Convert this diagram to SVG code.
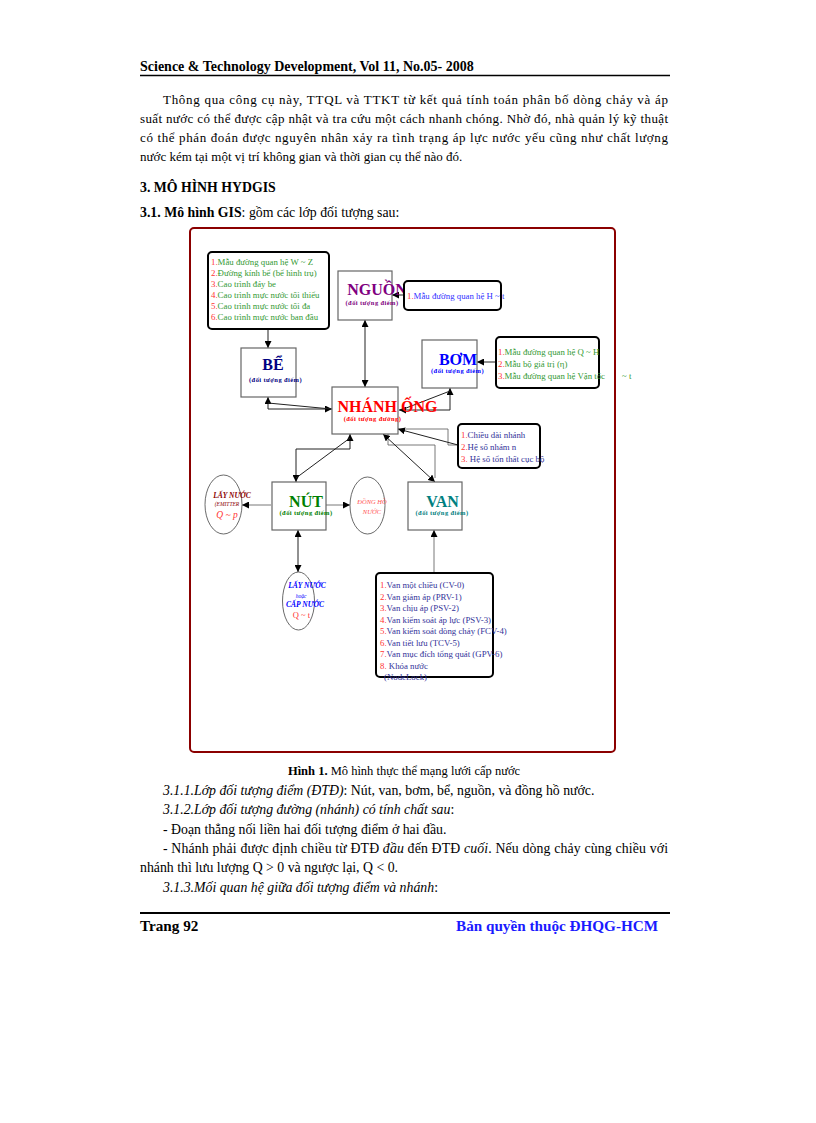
<svg xmlns="http://www.w3.org/2000/svg" width="816" height="1123" viewBox="0 0 816 1123">
<defs>
<marker id="ah" markerUnits="userSpaceOnUse" markerWidth="8" markerHeight="7" refX="7" refY="3.5" orient="auto-start-reverse"><path d="M0,0 L7,3.5 L0,7 z" fill="#000"/></marker>
<style>
.pg{font-family:"Liberation Serif",serif;font-size:13px;fill:#000}
.lo{font-size:13.8px}
.hd{font-size:14px}
.ft{font-size:15.2px}
.cap{font-size:12.5px}
.b{font-weight:bold}
.i{font-style:italic}
.d{font-family:"Liberation Serif",serif}
.node{fill:#fff;stroke:#666;stroke-width:1.2}
.attr{fill:#fff;stroke:#000;stroke-width:2}
.big{font-weight:bold;font-size:16px;text-anchor:middle}
.sub{font-weight:bold;font-size:6.5px;text-anchor:middle;letter-spacing:0.4px}
.at{font-size:8.8px}
.n{fill:#ff3333}
.g{fill:#339933}
.nv{fill:#333399}
.con{fill:none;stroke:#222;stroke-width:1}
.thin{fill:none;stroke:#555;stroke-width:0.8}
</style>
</defs>
<rect width="816" height="1123" fill="#fff"/>

<g id="page-text">
<text class="pg hd b" x="140" y="71">Science &amp; Technology Development, Vol 11, No.05- 2008</text>
<line x1="140" y1="75.5" x2="670" y2="75.5" stroke="#000" stroke-width="1.5"/>
<text class="pg" x="163" y="103.5" textLength="505" lengthAdjust="spacing">Thông qua công cụ này, TTQL và TTKT từ kết quả tính toán phân bố dòng chảy và áp</text>
<text class="pg" x="140" y="122.5" textLength="528" lengthAdjust="spacing">suất nước có thể được cập nhật và tra cứu một cách nhanh chóng. Nhờ đó, nhà quản lý kỹ thuật</text>
<text class="pg" x="140" y="141.5" textLength="528" lengthAdjust="spacing">có thể phán đoán được nguyên nhân xảy ra tình trạng áp lực nước yếu cũng như chất lượng</text>
<text class="pg" x="140" y="160.5">nước kém tại một vị trí không gian và thời gian cụ thể nào đó.</text>
<text class="pg lo b" x="140" y="191.5">3. MÔ HÌNH HYDGIS</text>
<text class="pg lo" x="140" y="216.5"><tspan class="b">3.1. Mô hình GIS</tspan>: gồm các lớp đối tượng sau:</text>
<text class="pg cap" x="404" y="775" text-anchor="middle"><tspan class="b">Hình 1.</tspan> Mô hình thực thể mạng lưới cấp nước</text>
<text class="pg lo" x="163" y="794.5"><tspan class="i">3.1.1.Lớp đối tượng điểm (ĐTĐ)</tspan>: Nút, van, bơm, bể, nguồn, và đồng hồ nước.</text>
<text class="pg lo" x="163" y="814"><tspan class="i">3.1.2.Lớp đối tượng đường (nhánh) có tính chất sau</tspan>:</text>
<text class="pg lo" x="163" y="833.5">- Đoạn thẳng nối liền hai đối tượng điểm ở hai đầu.</text>
<text class="pg lo" x="163" y="852.5" textLength="505" lengthAdjust="spacing">- Nhánh phải được định chiều từ ĐTĐ <tspan class="i">đầu</tspan> đến ĐTĐ <tspan class="i">cuối</tspan>. Nếu dòng chảy cùng chiều với</text>
<text class="pg lo" x="140" y="871.5">nhánh thì lưu lượng Q &gt; 0 và ngược lại, Q &lt; 0.</text>
<text class="pg lo" x="163" y="891.5"><tspan class="i">3.1.3.Mối quan hệ giữa đối tượng điểm  và nhánh</tspan>:</text>
<line x1="140" y1="913" x2="670" y2="913" stroke="#000" stroke-width="2"/>
<text class="pg ft b" x="140" y="931">Trang 92</text>
<text class="pg ft b" x="456" y="931" style="fill:#1a1aff">Bản quyền thuộc ĐHQG-HCM</text>
</g>

<rect id="frame" x="190" y="228" width="425" height="524" rx="4" fill="none" stroke="#8b0000" stroke-width="2"/>

<g id="connectors">
<line class="con" x1="268" y1="329" x2="268" y2="348" marker-end="url(#ah)"/>
<line class="con" x1="365" y1="320" x2="365" y2="387" marker-start="url(#ah)" marker-end="url(#ah)"/>
<line class="con" x1="404" y1="295" x2="392" y2="295" marker-end="url(#ah)"/>
<line class="con" x1="496" y1="362" x2="477" y2="362" marker-end="url(#ah)"/>
<path class="con" d="M268,397 V409 H332" marker-start="url(#ah)" marker-end="url(#ah)"/>
<line class="con" x1="268" y1="403" x2="331" y2="409"/>
<path class="con" d="M399,410 H450 V388" marker-start="url(#ah)" marker-end="url(#ah)"/>
<line class="con" x1="450" y1="391" x2="401" y2="410"/>
<path class="thin" d="M398,429 H448 V445 H458"/>
<line class="con" x1="458" y1="445" x2="398" y2="429" marker-end="url(#ah)"/>
<path class="con" d="M296,482 V449 H350 V434" marker-start="url(#ah)" marker-end="url(#ah)"/>
<line class="con" x1="296" y1="478" x2="350" y2="438"/>
<path class="thin" d="M388,434 V445 H435 V478"/>
<line class="con" x1="383" y1="434" x2="435" y2="482" marker-start="url(#ah)" marker-end="url(#ah)"/>
<line class="thin" x1="271" y1="505" x2="242" y2="505" marker-end="url(#ah)"/>
<line class="thin" x1="326" y1="505" x2="350" y2="505" marker-end="url(#ah)"/>
<line class="con" x1="298" y1="530" x2="298" y2="572" marker-start="url(#ah)" marker-end="url(#ah)"/>
<line class="thin" x1="434" y1="573" x2="434" y2="530" marker-end="url(#ah)"/>
</g>

<g id="be-attrs">
<rect class="attr" x="208" y="252" width="121" height="77" rx="4"/>
<text class="d at" x="211" y="264.5"><tspan class="n">1.</tspan><tspan class="g">Mẫu đường quan hệ W ~ Z</tspan></text>
<text class="d at" x="211" y="275.5"><tspan class="n">2.</tspan><tspan class="g">Đường kính bể (bể hình trụ)</tspan></text>
<text class="d at" x="211" y="286.5"><tspan class="n">3.</tspan><tspan class="g">Cao trình đáy be</tspan></text>
<text class="d at" x="211" y="297.5"><tspan class="n">4.</tspan><tspan class="g">Cao trình mực nước tối thiểu</tspan></text>
<text class="d at" x="211" y="308.5"><tspan class="n">5.</tspan><tspan class="g">Cao trình mực nước tối đa</tspan></text>
<text class="d at" x="211" y="319.5"><tspan class="n">6.</tspan><tspan class="g">Cao trình mực nước ban đầu</tspan></text>
</g>

<g id="nguon">
<rect class="node" x="338" y="271" width="54" height="49"/>
<text class="d big" x="377" y="295" fill="#800080">NGUỒN</text>
<text class="d sub" x="372" y="305" fill="#800080">(đối tượng điểm)</text>
</g>

<g id="nguon-attrs">
<rect class="attr" x="404" y="281" width="97" height="29" rx="4"/>
<text class="d at" x="407" y="298.5"><tspan class="n">1.</tspan><tspan fill="#3333ff">Mẫu đường quan hệ H ~ t</tspan></text>
</g>

<g id="be">
<rect class="node" x="241" y="348" width="55" height="49"/>
<text class="d big" x="273" y="369.5" fill="#000080">BỂ</text>
<text class="d sub" x="275.5" y="382" fill="#000080">(đối tượng điểm)</text>
</g>

<g id="bom">
<rect class="node" x="422" y="340" width="55" height="48"/>
<text class="d big" x="458" y="364.5" fill="#0000ff">BƠM</text>
<text class="d sub" x="457.5" y="373" fill="#0000ff">(đối tượng điểm)</text>
</g>

<g id="bom-attrs">
<rect class="attr" x="496" y="337" width="103" height="51" rx="4"/>
<text class="d at" x="498" y="354.5"><tspan class="n">1.</tspan><tspan class="g">Mẫu đường quan hệ Q ~ H</tspan></text>
<text class="d at" x="498" y="366.5"><tspan class="n">2.</tspan><tspan class="g">Mẫu bộ giá trị (η)</tspan></text>
<text class="d at" x="498" y="378.5"><tspan class="n">3.</tspan><tspan class="g">Mẫu đường quan hệ Vận tốc</tspan></text>
<text class="d at g" x="622" y="378.5">~ t</text>
</g>

<g id="nhanh-ong">
<rect class="node" x="332" y="387" width="66" height="47"/>
<text class="d big" x="387.5" y="411.5" fill="#ff0000">NHÁNH ỐNG</text>
<text class="d sub" x="372.5" y="420.5" fill="#ff0000">(đối tượng đường)</text>
</g>

<g id="nhanh-attrs">
<rect class="attr" x="458" y="424" width="82" height="44" rx="4"/>
<text class="d at" x="461" y="438"><tspan class="n">1.</tspan><tspan class="nv">Chiều dài nhánh</tspan></text>
<text class="d at" x="461" y="450"><tspan class="n">2.</tspan><tspan class="nv">Hệ số nhám n</tspan></text>
<text class="d at" x="461" y="462"><tspan class="n">3.</tspan><tspan class="nv"> Hệ số tổn thất cục bộ</tspan></text>
</g>

<g id="nut">
<rect class="node" x="272" y="482" width="54" height="48"/>
<text class="d big" x="306" y="507" fill="#008000">NÚT</text>
<text class="d sub" x="306" y="515" fill="#008000">(đối tượng điểm)</text>
</g>

<g id="emitter">
<ellipse cx="223.5" cy="504.5" rx="18.5" ry="29.5" fill="#fff" stroke="#444" stroke-width="0.8"/>
<text class="d" x="232" y="497.5" font-size="7.5" font-weight="bold" font-style="italic" fill="#8b0000" text-anchor="middle">LẤY NƯỚC</text>
<text class="d" x="227" y="506" font-size="5.5" font-style="italic" fill="#8b0000" text-anchor="middle">(EMITTER</text>
<text class="d" x="227" y="517.5" font-size="9.5" font-style="italic" fill="#ff3333" text-anchor="middle">Q ~ p</text>
</g>

<g id="dong-ho">
<ellipse cx="367.5" cy="505.5" rx="17.5" ry="28.5" fill="#fff" stroke="#444" stroke-width="0.8"/>
<text class="d" x="372" y="503.5" font-size="6.5" font-style="italic" fill="#ff5050" text-anchor="middle">ĐỒNG HỒ</text>
<text class="d" x="372" y="513.5" font-size="6.5" font-style="italic" fill="#ff5050" text-anchor="middle">NƯỚC</text>
</g>

<g id="van">
<rect class="node" x="408" y="482" width="54" height="48"/>
<text class="d big" x="442.5" y="507" fill="#008080">VAN</text>
<text class="d sub" x="442" y="515" fill="#008080">(đối tượng điểm)</text>
</g>

<g id="cap-nuoc">
<ellipse cx="298.5" cy="601" rx="16" ry="29" fill="#fff" stroke="#444" stroke-width="0.8"/>
<text class="d" x="307" y="588" font-size="7.5" font-weight="bold" font-style="italic" fill="#0000ff" text-anchor="middle">LẤY NƯỚC</text>
<text class="d" x="301" y="597.5" font-size="5.5" font-style="italic" fill="#0000ff" text-anchor="middle">hoặc</text>
<text class="d" x="305" y="607" font-size="7.5" font-weight="bold" font-style="italic" fill="#0000ff" text-anchor="middle">CẤP NƯỚC</text>
<text class="d" x="301.5" y="617.5" font-size="8.5" fill="#ff3333" text-anchor="middle">Q ~ t</text>
</g>

<g id="van-attrs">
<rect class="attr" x="376" y="573" width="117" height="104" rx="4"/>
<text class="d at" x="380" y="588"><tspan class="n">1.</tspan><tspan class="nv">Van một chiều (CV-0)</tspan></text>
<text class="d at" x="380" y="599.5"><tspan class="n">2.</tspan><tspan class="nv">Van giảm áp (PRV-1)</tspan></text>
<text class="d at" x="380" y="611"><tspan class="n">3.</tspan><tspan class="nv">Van chịu áp (PSV-2)</tspan></text>
<text class="d at" x="380" y="622.5"><tspan class="n">4.</tspan><tspan class="nv">Van kiểm soát áp lực (PSV-3)</tspan></text>
<text class="d at" x="380" y="634"><tspan class="n">5.</tspan><tspan class="nv">Van kiểm soát dòng chảy (FCV-4)</tspan></text>
<text class="d at" x="380" y="645.5"><tspan class="n">6.</tspan><tspan class="nv">Van tiết lưu (TCV-5)</tspan></text>
<text class="d at" x="380" y="657"><tspan class="n">7.</tspan><tspan class="nv">Van mục đích tổng quát (GPV-6)</tspan></text>
<text class="d at" x="380" y="668.5"><tspan class="n">8.</tspan><tspan class="nv"> Khóa nước</tspan></text>
<text class="d at nv" x="384" y="680">(NodeLock)</text>
</g>
</svg>
